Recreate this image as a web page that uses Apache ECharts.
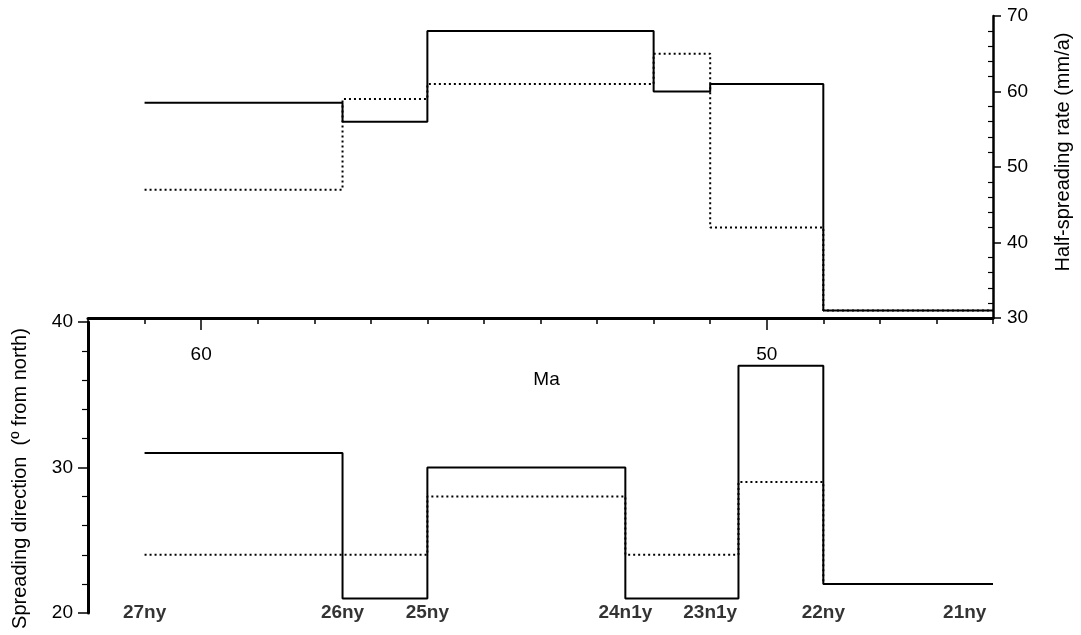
<!DOCTYPE html>
<html>
<head>
<meta charset="utf-8">
<script src="https://cdn.jsdelivr.net/npm/echarts@6/dist/echarts.min.js"></script>
<style>
    html, body {margin: 0; padding: 0; background: #fff;}
    #chartWrap {width: 1081px; height: 635px;}
</style>
</head>
<body>
<div id="chartWrap"></div>
<script>
// step boundaries (Ma) and values for each step
const topAges = [61, 57.5, 56, 52, 51, 49, 46];
const rateSolid = [58.5, 56, 68, 60, 61, 31];
const rateDotted = [47, 59, 61, 65, 42, 31];

const bottomAges = [61, 57.5, 56, 52.5, 50.5, 49, 46];
const dirSolid = [31, 21, 30, 21, 37, 22];
const dirDotted = [24, 24, 28, 24, 29, 22];

const chronNames = ['27ny', '26ny', '25ny', '24n1y', '23n1y', '22ny', '21ny'];
const chronAges = [61, 57.5, 56, 52.5, 51, 49, 46.5];

const maLabels = [60, 50];

const font = '"Liberation Sans", Arial, Helvetica, sans-serif';

function steps(ages, vals) {
    let pts = vals.map(function (v, i) {
        return [ages[i], v];
    });
    pts.push([ages[ages.length - 1], vals[vals.length - 1]]);
    return pts;
}

let myChart = echarts.init(document.getElementById('chartWrap'));

myChart.setOption({
    animation: false,
    textStyle: {fontFamily: font, color: '#000'},
    grid: [
        {left: 88, right: 88, top: 16, height: 302},
        {left: 88, right: 88, top: 322, height: 291}
    ],
    xAxis: [
        {
            gridIndex: 0,
            type: 'value',
            position: 'bottom',
            min: 46,
            max: 62,
            interval: 1,
            inverse: true,
            name: 'Ma',
            nameLocation: 'middle',
            nameGap: 52,
            nameTextStyle: {fontSize: 19, color: '#000', fontFamily: font, padding: [0, 0, 0, 12]},
            axisLine: {lineStyle: {color: '#000', width: 3}},
            axisTick: {length: 6, lineStyle: {color: '#000', width: 1.5}},
            axisLabel: {
                customValues: maLabels,
                margin: 27,
                fontSize: 19,
                color: '#000',
                fontFamily: font
            },
            splitLine: {show: false}
        },
        {
            // longer ticks at labelled ages
            gridIndex: 0,
            type: 'value',
            position: 'bottom',
            min: 46,
            max: 62,
            inverse: true,
            axisLine: {show: false},
            axisTick: {customValues: maLabels, length: 12, lineStyle: {color: '#000', width: 1.5}},
            axisLabel: {show: false},
            splitLine: {show: false}
        },
        {
            gridIndex: 1,
            type: 'value',
            min: 46,
            max: 62,
            inverse: true,
            show: false
        }
    ],
    yAxis: [
        {
            gridIndex: 0,
            type: 'value',
            position: 'right',
            min: 30,
            max: 70,
            interval: 10,
            name: 'Half-spreading rate (mm/a)',
            nameLocation: 'middle',
            nameGap: 60,
            nameTextStyle: {fontSize: 20, color: '#000', fontFamily: font, padding: [0, 0, 0, 30]},
            axisLine: {show: true, lineStyle: {color: '#000', width: 2.5}},
            axisTick: {show: true, length: 8, lineStyle: {color: '#000', width: 1.5}},
            minorTick: {show: true, splitNumber: 5, length: -5, lineStyle: {color: '#000', width: 1.2}},
            axisLabel: {margin: 14, fontSize: 19, color: '#000', fontFamily: font},
            splitLine: {show: false}
        },
        {
            gridIndex: 1,
            type: 'value',
            position: 'left',
            min: 20,
            max: 40,
            interval: 10,
            name: 'Spreading direction  (º from north)',
            nameLocation: 'middle',
            nameGap: 58,
            nameTextStyle: {fontSize: 20, color: '#000', fontFamily: font, padding: [0, 22, 0, 0]},
            axisLine: {show: true, lineStyle: {color: '#000', width: 3}},
            axisTick: {show: true, length: 10, lineStyle: {color: '#000', width: 1.5}},
            minorTick: {show: true, splitNumber: 5, length: 6, lineStyle: {color: '#000', width: 1.2}},
            axisLabel: {margin: 15, fontSize: 19, color: '#000', fontFamily: font},
            splitLine: {show: false}
        }
    ],
    series: [
        {
            name: 'rate solid',
            type: 'line',
            xAxisIndex: 0,
            yAxisIndex: 0,
            step: 'end',
            symbol: 'none',
            lineStyle: {color: '#000', width: 2},
            data: steps(topAges, rateSolid)
        },
        {
            name: 'rate dotted',
            type: 'line',
            xAxisIndex: 0,
            yAxisIndex: 0,
            step: 'end',
            symbol: 'none',
            lineStyle: {color: '#000', width: 2, type: [2, 3]},
            data: steps(topAges, rateDotted)
        },
        {
            name: 'direction dotted',
            type: 'line',
            xAxisIndex: 2,
            yAxisIndex: 1,
            step: 'end',
            symbol: 'none',
            lineStyle: {color: '#000', width: 2, type: [2, 3]},
            data: steps(bottomAges, dirDotted)
        },
        {
            name: 'direction solid',
            type: 'line',
            xAxisIndex: 2,
            yAxisIndex: 1,
            step: 'end',
            symbol: 'none',
            lineStyle: {color: '#000', width: 2},
            data: steps(bottomAges, dirSolid)
        },
        {
            name: 'chrons',
            type: 'scatter',
            xAxisIndex: 2,
            yAxisIndex: 1,
            symbolSize: 0,
            clip: false,
            silent: true,
            label: {
                show: true,
                position: 'inside',
                fontSize: 19,
                fontWeight: 'bold',
                color: '#000',
                fontFamily: font,
                formatter: function (p) {
                    return chronNames[p.dataIndex];
                }
            },
            data: chronAges.map(function (a) {
                return [a, 20];
            })
        }
    ]
});
</script>
</body>
</html>
